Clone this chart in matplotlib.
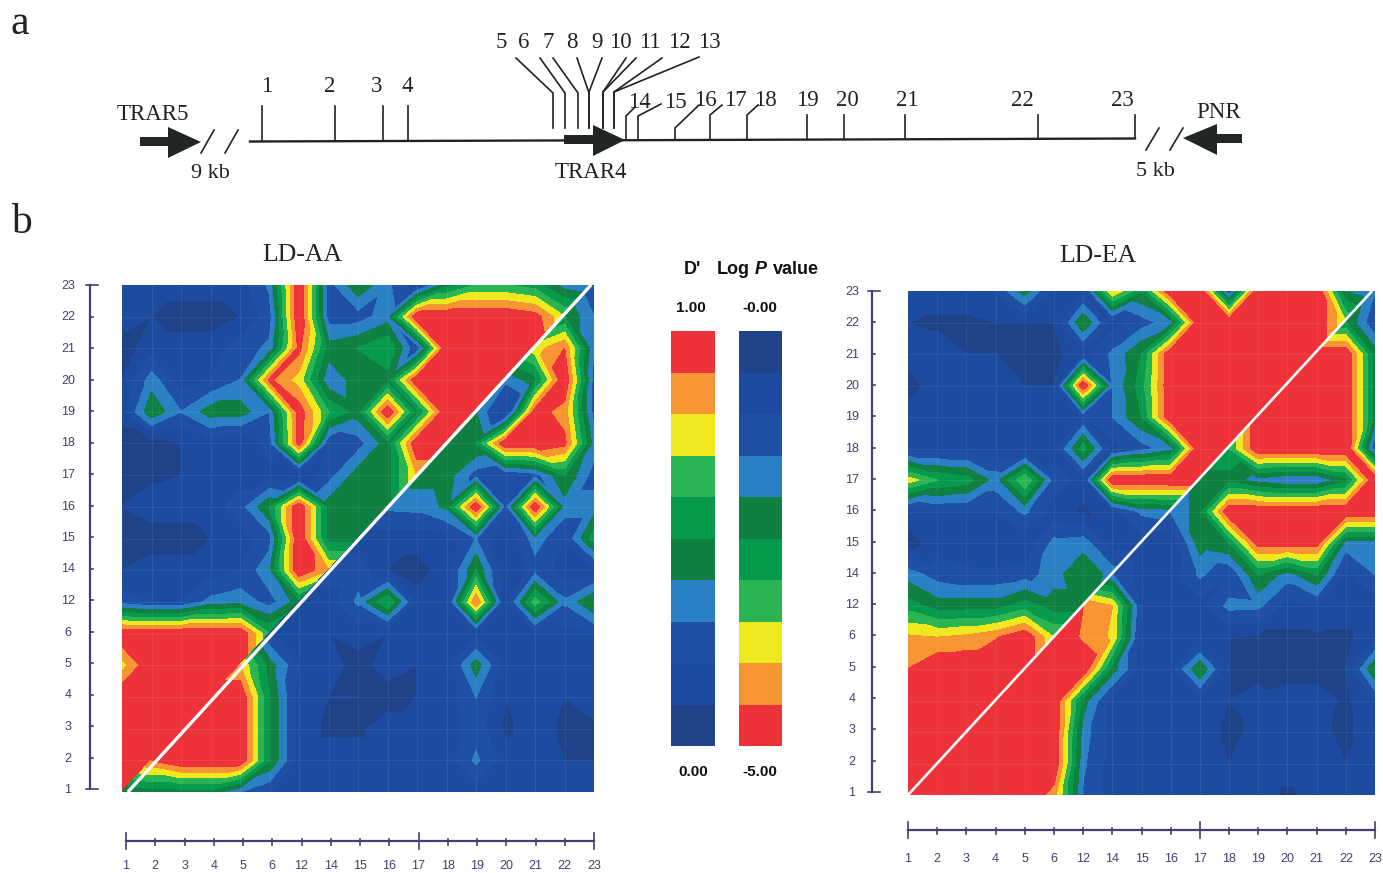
import numpy as np
import matplotlib
matplotlib.use("Agg")
import matplotlib.pyplot as plt
import matplotlib.tri as mtri
from matplotlib.patches import Polygon, Rectangle

W, H = 1383, 873
SNP_LABELS = ["1","2","3","4","5","6","12","14","15","16","17","18","19","20","21","22","23"]
BAND_COLORS = ["#1F4288","#1D4BA0","#1F50A6","#2B80C4","#0F7F42","#089A4C","#2BB552","#EEE81F","#F79533","#EE3239"]
LEVELS = [-1,1,2,3,4,5,6,7,8,9,11]

# Upper-left triangles (D'), rows from SNP 23 to SNP 1, each ending on the diagonal
AA_UPPER = [
 [1.5,1.5,1.5,1.5,1.5,3.2,10,2.5,4.8,3.2,1.5,4.5,6,6,5.5,3.5,3],
 [1.5,1,0.5,0.5,1,2.5,10,2.5,2.5,3.5,10,10,10,10,9.5,7],
 [0.5,1.5,1.5,1.5,2.5,3.2,9.3,4.5,5,6,2,10,10,10,10],
 [1,3.5,1.5,2,3,9.2,7.5,3.2,4.5,4.5,10,10,10,10],
 [1.5,4.8,3,4.5,4.5,3,9.6,6,4.5,10,4.5,10,10],
 [0.5,0.5,1,1.5,1,2.5,9.5,2,2.5,4.5,10,10],
 [0.8,0.8,1,1.5,1.5,1.5,0.8,2.5,4.5,4.5,8],
 [1,1.5,1.5,1.5,2.5,5,10,4.5,4.5,4.5],
 [1,0.5,0.5,1,1.5,2.5,10,4.5,4.5],
 [1,1.5,1.5,1.5,2,3.8,10,8],
 [2.5,2,2,3.3,3.7,2.5,4.5],
 [10,10,10,10,10,6],
 [7.5,10,10,10,10],
 [10,10,10,10],
 [10,10,10],
 [10,10],
 [10],
]
# Lower-right triangles (log P), rows from SNP 23 to SNP 1, each starting on the diagonal
AA_LOWER = [
 [2],
 [5,3],
 [7.5,9,3],
 [3.2,4.5,10,2.5],
 [4,1,9.5,8.5,2.5],
 [4.5,5,10,10,9.3,3.5],
 [4.5,4.5,2.5,2,2.5,5,2.5],
 [3.2,3.3,4.2,10,2.5,10,3.5,3.5],
 [1.5,1.5,1.5,1.5,3,1,3.5,2,5.5],
 [2.5,2.5,1,0.5,1.5,5,1,2.5,1.5,1.5],
 [1.5,1.5,3.2,6,1.5,1.5,9,1.5,6.5,3.2,5],
 [2,1,1,1.5,1,1,1,1.5,1.5,1.5,1.5,2],
 [8,4.5,2,1.5,0.5,1.5,1,1.5,4.5,1.5,1,1.5,1.5],
 [10,10,5,1.5,1,1,0.5,1,1.5,3,1,1.5,1,1.5],
 [10,10,10,5,1.5,0.8,0.8,1.5,1.5,1.5,2.5,0.8,1.5,0.8,0.8],
 [9,10,10,10,5,1.5,1.5,1.5,1.5,1.5,1.5,3.2,1.5,1.5,1,1],
 [4,4.5,4.5,4.5,3,2,1.5,1.5,1.5,1.5,1.5,1.5,1.5,1.5,1.5,1.5,1.5],
]
EA_UPPER = [
 [1.5,1.5,1.5,2,4.5,1.5,1.5,8,5,10,10,2,10,10,10,4,3],
 [1,0.8,0.8,1,1,1,5,1.5,2.5,3.5,10,10,10,10,10,7],
 [1.5,1.5,1,1,0.8,0.8,1.5,3.2,5,10,10,10,10,10,10],
 [0.5,1.5,1.5,1.5,1,1,10,3,5.5,10,10,10,10,10],
 [1.5,1.5,1.5,1.5,1,1,2,3,5,10,10,10,10],
 [1.5,1.5,1.5,1.5,1,1.5,5.5,1.5,2.5,3.5,10,10],
 [7.5,6,5.5,3.5,7,2.5,1.5,10,10,10,10],
 [1.5,2,2,2,3.2,1.5,0.8,1.5,3.2,3.5],
 [0.5,1.5,1.5,1,1,3.3,3.5,1.5,1.5],
 [3.5,2.5,2.2,2.2,2.5,3.5,5,3.5],
 [5.5,4.5,4.5,4.5,5.5,4.5,4.5],
 [8.2,8,8.3,8.9,10,7],
 [9,10,10,10,10],
 [10,10,10,10],
 [10,10,10],
 [10,10],
 [10],
]
EA_LOWER = [
 [3],
 [5,2],
 [10,10,4.5],
 [10,10,10,4.5],
 [10,10,10,10,4.5],
 [6,10,10,10,10,2],
 [4.5,4.5,3.5,3,3,4.5,10],
 [3,4.5,10,10,10,10,10,10],
 [1.5,1,4.5,5,9.5,9.5,9.5,3.5,3.5],
 [3,1.5,1.5,3.2,2,5,3.5,5,1.5,3],
 [9,8,2,1,1.5,3.3,3.2,1.5,2,1.5,1.5],
 [10,8.8,7.8,1.5,1,1,1,0.8,0.8,0.8,0.8,1.5],
 [10,10,10,4.5,1.5,1.5,5,1,0.8,0.5,0.5,1,5],
 [10,10,10,4.5,1.5,1.5,1.5,1.5,1,1.2,1.5,1.5,0.8,2],
 [10,10,10,10,3.5,1.5,1.5,1.5,1.5,0.8,1.2,1.5,1.2,0.8,1.5],
 [10,10,10,10,10,3.2,1.5,1.5,1.5,1.5,1,1.5,1.5,1.5,1,1.5],
 [10,10,10,10,10,8.5,2.8,1.5,1.5,1,1.5,1.5,1.5,0.8,1.5,1.5,1.5],
]

SERIF = "Liberation Serif"
SANS = "Liberation Sans"
AXC = "#4A3B73"
INK = "#222222"

def surface(rows, upper):
    n = len(rows)
    z = np.zeros((n, n))
    for i, row in enumerate(rows):
        r = n - 1 - i
        for j, v in enumerate(row):
            c = j if upper else r + j
            z[r, c] = v
            z[c, r] = v
    return z

def triangles(z, upper):
    """Split each grid square along the diagonal whose ends agree best; a saddle keeps its low ends joined."""
    n = z.shape[0]
    idx = lambda r, c: r * n + c
    out = []
    for r in range(n - 1):
        for c in range(n - 1):
            if upper and c > r:
                continue
            if not upper and c < r:
                continue
            a, b, d, e = idx(r, c), idx(r, c + 1), idx(r + 1, c), idx(r + 1, c + 1)
            za, zb, zd, ze = z[r, c], z[r, c + 1], z[r + 1, c], z[r + 1, c + 1]
            if r == c:
                out.append((a, d, e) if upper else (a, b, e))
                continue
            d1, d2 = abs(za - ze), abs(zb - zd)
            if abs(d1 - d2) < 1.0:
                use_ae = za + ze <= zb + zd
            else:
                use_ae = d1 < d2
            if use_ae:
                out += [(a, b, e), (a, e, d)]
            else:
                out += [(a, b, d), (b, e, d)]
    return out

fig = plt.figure(figsize=(W/100, H/100), dpi=100, facecolor="white")
bg = fig.add_axes([0, 0, 1, 1])
bg.set_xlim(0, W); bg.set_ylim(H, 0); bg.axis("off")

def px_axes(x0, y0, x1, y1):
    return fig.add_axes([x0/W, 1-y1/H, (x1-x0)/W, (y1-y0)/H])

def panel(upper, lower, box, diag, diag_lw):
    ax = px_axes(*box)
    n = len(SNP_LABELS)
    X, Y = np.meshgrid(np.arange(n), np.arange(n))
    for rows, up in ((upper, True), (lower, False)):
        z = surface(rows, up)
        tri = mtri.Triangulation(X.ravel(), Y.ravel(), triangles(z, up))
        cs = ax.tricontourf(tri, z.ravel(), levels=LEVELS, colors=BAND_COLORS)
        cs.set_edgecolor("face"); cs.set_linewidth(0.4)
    for k in range(1, n-1):
        ax.axhline(k, color="white", lw=0.6, alpha=0.08)
        ax.axvline(k, color="white", lw=0.6, alpha=0.08)
    ax.plot(diag[0], diag[1], color="white", lw=diag_lw, solid_capstyle="butt")
    ax.set_xlim(0, n-1); ax.set_ylim(0, n-1)
    ax.axis("off")

panel(AA_UPPER, AA_LOWER, (122, 285, 594, 792), ([0.2, 15.9], [0, 16]), 2.4)
panel(EA_UPPER, EA_LOWER, (908, 291, 1375, 795), ([0, 15.9], [0, 16]), 1.9)

def y_scale(x, y_top, y_bot, lab_x):
    bg.plot([x, x], [y_top, y_bot], color=AXC, lw=1.6)
    ys = np.linspace(y_top, y_bot, len(SNP_LABELS))
    for i, (yy, lab) in enumerate(zip(ys, SNP_LABELS[::-1])):
        big = i in (0, len(ys)-1)
        bg.plot([x-(4 if big else 0), x+(8 if big else 3)], [yy, yy], color=AXC, lw=1.2)
        bg.text(lab_x, yy+1, lab, ha="center", va="center", fontsize=9, color=AXC, family=SANS)

def x_scale(y, x0, x1, lab_y):
    bg.plot([x0, x1], [y, y], color=AXC, lw=1.6)
    xs = np.linspace(x0, x1, len(SNP_LABELS))
    for i, (xx, lab) in enumerate(zip(xs, SNP_LABELS)):
        big = i in (0, 10, len(xs)-1)
        bg.plot([xx, xx], [y-(8 if big else 2), y+(8 if big else 4)], color=AXC, lw=1.2)
        bg.text(xx, lab_y, lab, ha="center", va="center", fontsize=9, color=AXC, family=SANS)

y_scale(90, 285, 789, 68)
y_scale(872, 291, 792, 852)
x_scale(841, 126, 594, 866)
x_scale(830, 908, 1375, 859)

# colour keys
def key(x0, x1, colors):
    ys = np.linspace(331, 746, len(colors)+1)
    for c, a, b in zip(colors, ys[:-1], ys[1:]):
        bg.add_patch(Rectangle((x0, a), x1-x0, b-a, facecolor=c, edgecolor="none"))

key(671, 715, BAND_COLORS[::-1])
key(739, 782, BAND_COLORS)
for x, y, s in [(691,308,"1.00"),(760,308,"-0.00"),(693,772,"0.00"),(760,772,"-5.00")]:
    bg.text(x, y, s, ha="center", va="center", fontsize=11, fontweight="bold", family=SANS, color="#111111")
BOLD = dict(ha="left", va="center", fontsize=13, fontweight="bold", family=SANS, color="#111111")
bg.text(684, 270, "D'", **BOLD)
bg.text(717, 270, "Log", **BOLD)
bg.text(755, 270, "P", fontstyle="italic", **BOLD)
bg.text(773, 270, "value", **BOLD)

# gene map
def line(pts, lw=1.2):
    xs, ys = zip(*pts)
    bg.plot(xs, ys, color=INK, lw=lw, solid_joinstyle="miter")

def serif(x, y, s, size=16):
    bg.text(x, y + 2, s, ha="center", va="center", fontsize=size, family=SERIF, color=INK)

line([(250,141.5),(1135,138.5)], lw=1.7)
for x, top, bot in [(262,106,141),(335,106,141),(383,106,141),(408,106,141),(807,115,139),(844,115,139),(905,115,139),(1038,115,138),(1135,115,138)]:
    line([(x,top),(x,bot)])
for pts in [[(553,128),(553,93),(516,58)],[(565,128),(565,93),(540,58)],[(578,128),(578,93),(553,58)],
            [(589,128),(589,93),(577,58)],[(589,128),(589,92),(602,58)],[(603,128),(603,92),(626,58)],
            [(603,128),(603,92),(636,58)],[(614,128),(614,92),(662,58)],[(614,128),(614,92),(699,57)],
            [(626,139),(626,116),(634,108)],[(638,139),(638,116),(661,104)],[(675,139),(675,128),(699,105)],
            [(710,139),(710,115),(722,105)],[(747,139),(747,115),(758,105)]]:
    line(pts)
for x, y, s in [(267,86,"1"),(330,86,"2"),(377,86,"3"),(407,86,"4"),(501,42,"5"),(524,42,"6"),(548,42,"7"),
                (572,42,"8"),(597,42,"9"),(620,42,"10"),(650,42,"11"),(679,42,"12"),(709,42,"13"),(639,101,"14"),
                (675,101,"15"),(705,100,"16"),(735,100,"17"),(765,100,"18"),(807,100,"19"),(847,100,"20"),
                (907,100,"21"),(1022,99,"22"),(1122,99,"23")]:
    serif(x, y - 1, s, 16.5)
for pts in [[(140,137),(168,137),(168,127),(201,142),(168,158),(168,146),(140,146)],
            [(564,135),(593,135),(593,125),(625,140),(593,156),(593,144),(564,144)],
            [(1242,134),(1217,134),(1217,124),(1183,138),(1217,155),(1217,143),(1242,143)]]:
    bg.add_patch(Polygon(pts, closed=True, facecolor="#222526", edgecolor="none"))
for a, b in [((201,153),(214,130)),((225,153),(238,130)),((1146,150),(1159,128)),((1170,150),(1183,128))]:
    line([a, b])
serif(153, 113, "TRAR5", 16.5)
serif(591, 170, "TRAR4", 16.5)
serif(1219, 111, "PNR", 16.5)
serif(210, 171, "9 kb", 16)
serif(1155, 169, "5 kb", 16)
serif(20, 22, "a", 30)
serif(21, 221, "b", 30)
serif(302, 253, "LD-AA", 18.5)
serif(1098, 254, "LD-EA", 18.5)

fig.savefig("out.png", dpi=100, facecolor="white")
